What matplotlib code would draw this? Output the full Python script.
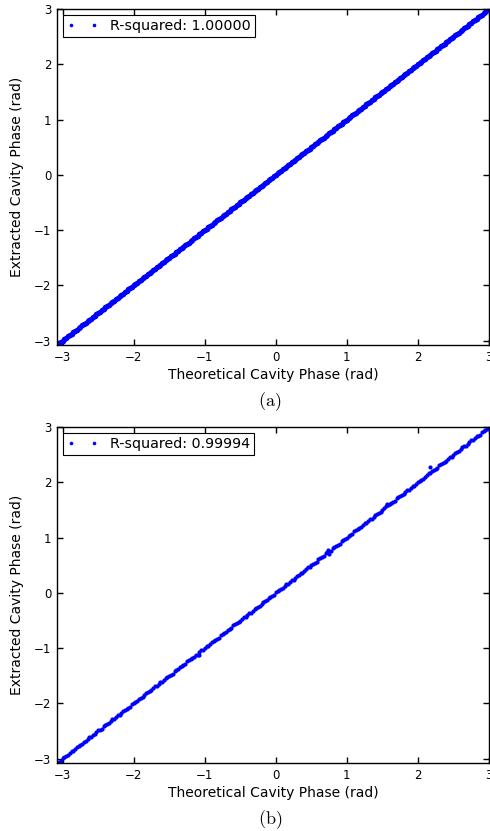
import matplotlib
matplotlib.use('Agg')
from matplotlib import pyplot as plt

# theoretical cavity phase (rad), same grid used in both runs
phase_theory = [
    -3.05, -3.00, -2.95, -2.90, -2.85, -2.80, -2.75, -2.70, -2.65, -2.60,
    -2.55, -2.50, -2.45, -2.40, -2.35, -2.30, -2.25, -2.20, -2.15, -2.10,
    -2.05, -2.00, -1.95, -1.90, -1.85, -1.80, -1.75, -1.70, -1.65, -1.60,
    -1.55, -1.50, -1.45, -1.40, -1.35, -1.30, -1.25, -1.20, -1.15, -1.10,
    -1.05, -1.00, -0.95, -0.90, -0.85, -0.80, -0.75, -0.70, -0.65, -0.60,
    -0.55, -0.50, -0.45, -0.40, -0.35, -0.30, -0.25, -0.20, -0.15, -0.10,
    -0.05, 0.00, 0.05, 0.10, 0.15, 0.20, 0.25, 0.30, 0.35, 0.40,
    0.45, 0.50, 0.55, 0.60, 0.65, 0.70, 0.75, 0.80, 0.85, 0.90,
    0.95, 1.00, 1.05, 1.10, 1.15, 1.20, 1.25, 1.30, 1.35, 1.40,
    1.45, 1.50, 1.55, 1.60, 1.65, 1.70, 1.75, 1.80, 1.85, 1.90,
    1.95, 2.00, 2.05, 2.10, 2.15, 2.20, 2.25, 2.30, 2.35, 2.40,
    2.45, 2.50, 2.55, 2.60, 2.65, 2.70, 2.75, 2.80, 2.85, 2.90,
    2.95, 3.00]

# in-between samples of the theoretical phase
phase_theory_mid = [
    -3.025, -2.975, -2.925, -2.875, -2.825, -2.775, -2.725, -2.675, -2.625, -2.575,
    -2.525, -2.475, -2.425, -2.375, -2.325, -2.275, -2.225, -2.175, -2.125, -2.075,
    -2.025, -1.975, -1.925, -1.875, -1.825, -1.775, -1.725, -1.675, -1.625, -1.575,
    -1.525, -1.475, -1.425, -1.375, -1.325, -1.275, -1.225, -1.175, -1.125, -1.075,
    -1.025, -0.975, -0.925, -0.875, -0.825, -0.775, -0.725, -0.675, -0.625, -0.575,
    -0.525, -0.475, -0.425, -0.375, -0.325, -0.275, -0.225, -0.175, -0.125, -0.075,
    -0.025, 0.025, 0.075, 0.125, 0.175, 0.225, 0.275, 0.325, 0.375, 0.425,
    0.475, 0.525, 0.575, 0.625, 0.675, 0.725, 0.775, 0.825, 0.875, 0.925,
    0.975, 1.025, 1.075, 1.125, 1.175, 1.225, 1.275, 1.325, 1.375, 1.425,
    1.475, 1.525, 1.575, 1.625, 1.675, 1.725, 1.775, 1.825, 1.875, 1.925,
    1.975, 2.025, 2.075, 2.125, 2.175, 2.225, 2.275, 2.325, 2.375, 2.425,
    2.475, 2.525, 2.575, 2.625, 2.675, 2.725, 2.775, 2.825, 2.875, 2.925,
    2.975]

# (a) extracted phase, noiseless case (R^2 = 1)
phase_extr_a = list(phase_theory)
phase_extr_a_mid = list(phase_theory_mid)

# (b) extracted phase, noisy case
phase_extr_b = [
    -3.07, -2.99, -2.96, -2.89, -2.86, -2.79, -2.76, -2.70, -2.64, -2.61,
    -2.55, -2.49, -2.46, -2.40, -2.36, -2.29, -2.25, -2.21, -2.14, -2.10,
    -2.06, -1.99, -1.95, -1.91, -1.84, -1.80, -1.76, -1.69, -1.65, -1.61,
    -1.54, -1.50, -1.46, -1.39, -1.35, -1.31, -1.24, -1.20, -1.16, -1.12,
    -1.04, -1.00, -0.96, -0.89, -0.85, -0.81, -0.74, -0.70, -0.66, -0.59,
    -0.55, -0.51, -0.44, -0.40, -0.36, -0.29, -0.25, -0.21, -0.14, -0.10,
    -0.06, 0.01, 0.05, 0.09, 0.16, 0.20, 0.24, 0.31, 0.35, 0.39,
    0.46, 0.50, 0.54, 0.61, 0.65, 0.72, 0.70, 0.81, 0.85, 0.89,
    0.96, 1.00, 1.04, 1.11, 1.15, 1.19, 1.26, 1.30, 1.34, 1.41,
    1.45, 1.49, 1.58, 1.60, 1.64, 1.71, 1.75, 1.79, 1.86, 1.90,
    1.94, 2.01, 2.05, 2.09, 2.16, 2.20, 2.24, 2.31, 2.35, 2.39,
    2.46, 2.50, 2.54, 2.61, 2.65, 2.69, 2.76, 2.80, 2.84, 2.91,
    2.95, 3.00]

phase_extr_b_mid = [
    -3.035, -2.965, -2.935, -2.870, -2.830, -2.765, -2.730, -2.680, -2.615, -2.580,
    -2.520, -2.485, -2.415, -2.380, -2.320, -2.285, -2.215, -2.180, -2.120, -2.085,
    -2.015, -1.980, -1.920, -1.885, -1.815, -1.780, -1.720, -1.685, -1.615, -1.580,
    -1.520, -1.485, -1.415, -1.380, -1.320, -1.285, -1.215, -1.180, -1.130, -1.065,
    -1.030, -0.965, -0.930, -0.870, -0.835, -0.765, -0.730, -0.670, -0.635, -0.565,
    -0.530, -0.470, -0.435, -0.365, -0.330, -0.270, -0.235, -0.165, -0.130, -0.070,
    -0.035, 0.035, 0.070, 0.130, 0.165, 0.235, 0.270, 0.330, 0.365, 0.435,
    0.470, 0.530, 0.565, 0.635, 0.670, 0.745, 0.760, 0.830, 0.865, 0.935,
    0.970, 1.030, 1.065, 1.135, 1.170, 1.230, 1.265, 1.335, 1.370, 1.430,
    1.465, 1.535, 1.590, 1.630, 1.665, 1.735, 1.770, 1.830, 1.865, 1.935,
    1.970, 2.030, 2.065, 2.135, 2.170, 2.230, 2.265, 2.335, 2.370, 2.430,
    2.465, 2.535, 2.570, 2.630, 2.665, 2.735, 2.770, 2.830, 2.865, 2.935,
    2.970]

# a few stray points in (b)
stray_theory_b = [2.17, 0.74, -1.08, 1.56, -3.04]
stray_extr_b = [2.28, 0.78, -1.13, 1.61, -3.08]

r2_labels = ['R-squared: 1.00000', 'R-squared: 0.99994']
ticks = [-3, -2, -1, 0, 1, 2, 3]

plt.rcParams['mathtext.fontset'] = 'cm'

fig = plt.figure(figsize=(4.9, 8.31), dpi=100)
ax_a = fig.add_axes([0.1163, 0.5848, 0.8816, 0.4043])
ax_b = fig.add_axes([0.1163, 0.0818, 0.8816, 0.4043])

# (a) looks like a thick solid band, (b) a bit thinner and rougher
panels = [
    (ax_a, phase_theory + phase_theory_mid, phase_extr_a + phase_extr_a_mid, 4.0),
    (ax_b, phase_theory + phase_theory_mid + stray_theory_b,
     phase_extr_b + phase_extr_b_mid + stray_extr_b, 3.0),
]

for i, (ax, xs, ys, ms) in enumerate(panels):
    ax.plot(xs, ys, linestyle='none', marker='o', color='blue',
            markeredgewidth=0, markersize=ms, label=r2_labels[i])
    ax.set_xlim(-3.08, 3.0)
    ax.set_ylim(-3.08, 3.0)
    ax.set_xticks(ticks)
    ax.set_yticks(ticks)
    ax.tick_params(direction='in', top=True, right=True, length=4,
                   width=1, labelsize=8.5, pad=4)
    for sp in ax.spines.values():
        sp.set_linewidth(1)
    ax.set_xlabel('Theoretical Cavity Phase (rad)', fontsize=10, labelpad=3)
    ax.set_ylabel('Extracted Cavity Phase (rad)', fontsize=10, labelpad=7)
    leg = ax.legend(loc='upper left', numpoints=2, fancybox=False,
                    framealpha=1, edgecolor='black', fontsize=10.3,
                    handlelength=2.2, borderaxespad=0.4, borderpad=0.3)
    leg.get_frame().set_linewidth(0.8)
    for h in leg.legend_handles:
        h.set_markersize(2.6)

fig.text(0.551, 1 - 402 / 831, r'$\mathrm{(a)}$', ha='center', va='center', fontsize=13)
fig.text(0.551, 1 - 820 / 831, r'$\mathrm{(b)}$', ha='center', va='center', fontsize=13)

fig.savefig('out.png', dpi=100)
